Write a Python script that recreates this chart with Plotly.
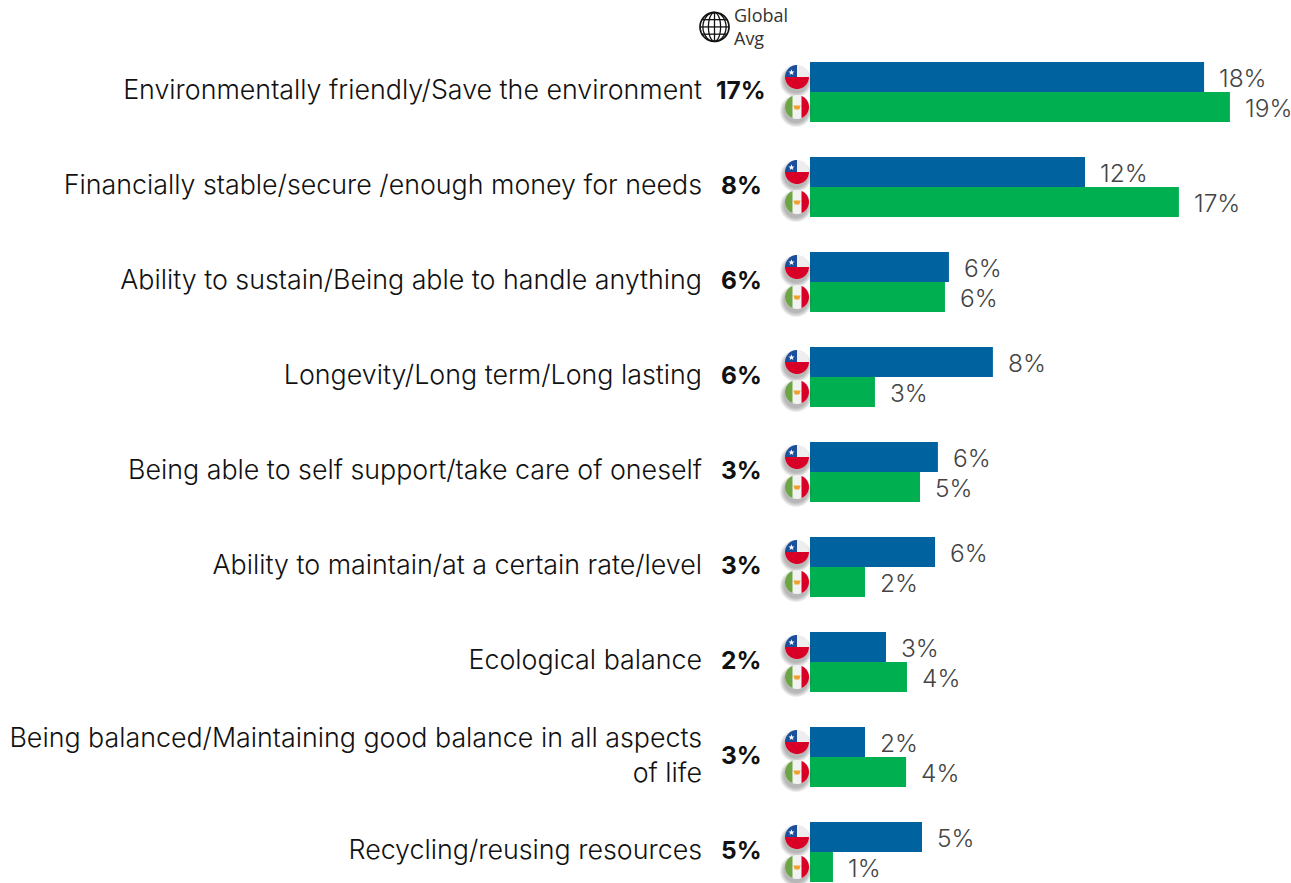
import numpy as np
import plotly.graph_objects as go

# Survey responses, in display order
categories = [
    "Environmentally friendly/Save the environment",
    "Financially stable/secure /enough money for needs",
    "Ability to sustain/Being able to handle anything",
    "Longevity/Long term/Long lasting",
    "Being able to self support/take care of oneself",
    "Ability to maintain/at a certain rate/level",
    "Ecological balance",
    "Being balanced/Maintaining good balance in all aspects<br>of life",
    "Recycling/reusing resources",
]
global_avg = [17, 8, 6, 6, 3, 3, 2, 3, 5]
chile = [17.84, 12.45, 6.29, 8.28, 5.79, 5.66, 3.44, 2.49, 5.07]
mexico = [19.01, 16.7, 6.11, 2.94, 4.98, 2.49, 4.39, 4.35, 1.04]

BLUE = "#00629F"
GREEN = "#00B050"
FONT = "Inter"
W, H = 1291, 883
AXIS_LEFT = 810
PX_PER_PCT = 22.09
ROW = 95
FIRST_ROW_Y = 92
OFFSET = 15 / ROW  # half a bar, in category units
CAT_IDX = list(range(len(categories)))


def arc_poly(cx, cy, r, a0, a1, n=40):
    ang = np.radians(np.linspace(a0, a1, n))
    return [(cx + r * np.cos(a), cy + r * np.sin(a)) for a in ang]


def to_path(points):
    return "M" + " L".join(f"{x:.2f},{y:.2f}" for x, y in points) + " Z"


def pixel_shape(path, x_paper, y_val, fill=None, line=None, width=0, opacity=1.0):
    return dict(
        type="path", path=path, xref="paper", yref="y",
        xsizemode="pixel", ysizemode="pixel", xanchor=x_paper, yanchor=y_val,
        fillcolor=fill or "rgba(0,0,0,0)", opacity=opacity,
        line=dict(color=line or "rgba(0,0,0,0)", width=width), layer="above",
    )


def shadow(x, y, r=12):
    # Stacked translucent discs give a soft drop shadow
    return [
        pixel_shape(to_path(arc_poly(-1, -4, r + grow, 0, 360)), x, y, fill="#444444", opacity=0.09)
        for grow in (4, 3, 2, 1, 0)
    ]


def chile_flag(x, y, r=12):
    out = shadow(x, y)
    out.append(pixel_shape(to_path(arc_poly(0, 0, r, 0, 360)), x, y, fill="#EEEEEE"))
    out.append(pixel_shape(to_path(arc_poly(0, 0, r, 180, 360)), x, y, fill="#D80027"))
    # Blue canton occupies the upper-left quadrant of the disc
    canton = [(0, 0)] + arc_poly(0, 0, r, 90, 180, 16)
    out.append(pixel_shape(to_path(canton), x, y, fill="#1B4F9C"))
    star = [(-5.5 + (3.2 if k % 2 == 0 else 1.3) * np.sin(k * np.pi / 5),
             4.5 + (3.2 if k % 2 == 0 else 1.3) * np.cos(k * np.pi / 5)) for k in range(10)]
    out.append(pixel_shape(to_path(star), x, y, fill="#FFFFFF"))
    return out


def mexico_flag(x, y, r=12):
    out = shadow(x, y)
    out.append(pixel_shape(to_path(arc_poly(0, 0, r, 0, 360)), x, y, fill="#F2F2F2"))
    a = np.degrees(np.arccos(4.5 / r))
    out.append(pixel_shape(to_path(arc_poly(0, 0, r, 180 - a, 180 + a)), x, y, fill="#6DA544"))
    out.append(pixel_shape(to_path(arc_poly(0, 0, r, -a, a)), x, y, fill="#D80027"))
    emblem = [(-3.6, 1.5), (3.6, 1.5), (2.2, -2.5), (-2.2, -2.5)]
    out.append(pixel_shape(to_path(emblem), x, y, fill="#F0A030"))
    return out


def globe(x, y, r=14.5):
    color = "#111111"
    out = [pixel_shape(to_path(arc_poly(0, 0, r, 0, 360)), x, y, line=color, width=1.7)]
    for k in (0.42, 0.8):
        meridian = [(k * r * np.cos(t), r * np.sin(t)) for t in np.linspace(0, 2 * np.pi, 40)]
        out.append(pixel_shape(to_path(meridian), x, y, line=color, width=1.3))
    out.append(pixel_shape(f"M0,{-r} L0,{r}", x, y, line=color, width=1.3))
    for dy in (-0.5, 0, 0.5):
        half = r * np.sqrt(1 - dy * dy)
        out.append(pixel_shape(f"M{-half:.2f},{dy*r:.2f} L{half:.2f},{dy*r:.2f}", x, y, line=color, width=1.3))
    return out


fig = go.Figure()
fig.add_bar(y=CAT_IDX, x=chile, orientation="h", name="Chile",
            marker=dict(color=BLUE, line=dict(width=0)))
fig.add_bar(y=CAT_IDX, x=mexico, orientation="h", name="Mexico",
            marker=dict(color=GREEN, line=dict(width=0)))

annotations = []
shapes = []
flag_x = 797 / W
avg_x = 741 / W

for i, (c, m, g) in enumerate(zip(chile, mexico, global_avg)):
    for value, pos in ((c, i - OFFSET), (m, i + OFFSET)):
        annotations.append(dict(
            x=value, y=pos, xref="x", yref="y", text=f"{round(value)}%", showarrow=False,
            xanchor="left", xshift=13, yshift=-1,
            font=dict(family=FONT, size=24.5, weight=300, color="#444444"),
        ))
    annotations.append(dict(
        x=avg_x, y=i, xref="paper", yref="y", text=f"{g}%", showarrow=False,
        xanchor="center", yshift=2,
        font=dict(family=FONT, size=24.5, weight=700, color="#111111"),
    ))
    shapes += chile_flag(flag_x, i - OFFSET)
    shapes += mexico_flag(flag_x, i + OFFSET)

shapes += globe(714.5 / W, -0.685)
annotations.append(dict(
    x=732 / W, y=-0.685, xref="paper", yref="y", text="Global<br>Avg", showarrow=False,
    xanchor="left", align="left", font=dict(family="Open Sans", size=18, color="#333333"),
))

fig.update_layout(
    width=W, height=H, autosize=False,
    margin=dict(l=0, r=0, t=0, b=0, pad=0),
    paper_bgcolor="white", plot_bgcolor="white",
    showlegend=False, barmode="group", bargap=35 / ROW, bargroupgap=0,
    annotations=annotations, shapes=shapes,
    xaxis=dict(domain=[AXIS_LEFT / W, 1], range=[0, (W - AXIS_LEFT) / PX_PER_PCT],
               visible=False, fixedrange=True),
    yaxis=dict(
        range=[(H - FIRST_ROW_Y) / ROW, -FIRST_ROW_Y / ROW],
        # Labels sit a touch above the centre of each bar pair
        tickmode="array", tickvals=[i - 2 / ROW for i in CAT_IDX], ticktext=categories,
        showgrid=False, zeroline=False, showline=False, ticks="",
        ticklabelstandoff=107, automargin=False,
        tickfont=dict(family=FONT, size=26.8, weight=300, color="#111111"), fixedrange=True,
    ),
)

fig.write_html("out.html", config=dict(displayModeBar=False))
